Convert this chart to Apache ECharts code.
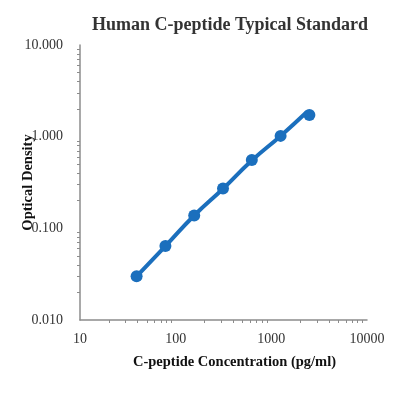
<!DOCTYPE html>
<html>
<head>
<meta charset="utf-8">
<style>
  html, body { margin: 0; padding: 0; background: #fff; }
  #chart { width: 397px; height: 398px; }
</style>
<script src="https://cdn.jsdelivr.net/npm/echarts@6/dist/echarts.min.js"></script>
</head>
<body>
<div id="chart"></div>
<script>
// standard points (pg/ml, OD)
var concentrations = [39.06, 78.125, 156.25, 312.5, 625, 1250, 2500];
var odValues = [0.030, 0.064, 0.138, 0.272, 0.556, 1.02, 1.72];
// fitted curve
var fitX = [39.06, 78.125, 156.25, 312.5, 625, 1250, 2350];
var fitY = [0.030, 0.064, 0.138, 0.270, 0.550, 1.02, 1.86];

var xTicks = [10, 100, 1000, 10000];
var yTicks = [0.01, 0.1, 1, 10];

var blue = "#1b6fbd";
var serif = "'Liberation Serif', 'DejaVu Serif', serif";

function pairs(xs, ys) {
    var out = [];
    for (var i = 0; i < xs.length; i++) out.push([xs[i], ys[i]]);
    return out;
}

var chart = echarts.init(document.getElementById("chart"));
chart.setOption({
    backgroundColor: "#fff",
    animation: false,
    title: {
        text: "Human C-peptide Typical Standard",
        left: 225, top: 11, textAlign: "center",
        textStyle: { fontFamily: serif, fontSize: 18, fontWeight: "bold", color: "#333" }
    },
    grid: { left: 80, right: 30, top: 45, bottom: 78, outerBoundsMode: "none", containLabel: false },
    xAxis: {
        type: "log", logBase: 10, min: xTicks[0], max: xTicks[xTicks.length - 1], interval: 1,
        name: "C-peptide Concentration (pg/ml)", nameLocation: "middle", nameGap: 35,
        nameTextStyle: { fontFamily: serif, fontSize: 14.5, fontWeight: "bold", color: "#111", padding: [0, 0, 0, 22] },
        axisLine: { lineStyle: { color: "#8c8c8c", width: 1.5 } },
        axisTick: { show: false },
        minorTick: { show: true, splitNumber: 9, length: 3, lineStyle: { color: "#8c8c8c" } },
        splitLine: { show: false },
        axisLabel: {
            fontFamily: serif, fontSize: 14, color: "#333", margin: 12,
            formatter: function (v) { return String(v); }
        }
    },
    yAxis: {
        type: "log", logBase: 10, min: yTicks[0], max: yTicks[yTicks.length - 1], interval: 1,
        name: "Optical Density", nameLocation: "middle", nameGap: 44, nameRotate: 90,
        nameMoveOverlap: false,
        nameTextStyle: { fontFamily: serif, fontSize: 14.5, fontWeight: "bold", color: "#111" },
        axisLine: { lineStyle: { color: "#8c8c8c", width: 1.5 } },
        axisTick: { show: false },
        minorTick: { show: true, splitNumber: 9, length: 3, lineStyle: { color: "#8c8c8c" } },
        splitLine: { show: false },
        axisLabel: {
            fontFamily: serif, fontSize: 14, color: "#333", margin: 17,
            formatter: function (v) { return v.toFixed(3); }
        }
    },
    series: [
        {
            name: "fit", type: "line", data: pairs(fitX, fitY), smooth: true,
            showSymbol: false, lineStyle: { color: blue, width: 4 }, z: 2
        },
        {
            name: "standard", type: "scatter", data: pairs(concentrations, odValues),
            symbolSize: 12, itemStyle: { color: blue, opacity: 1 }, z: 3
        }
    ]
});
</script>
</body>
</html>
